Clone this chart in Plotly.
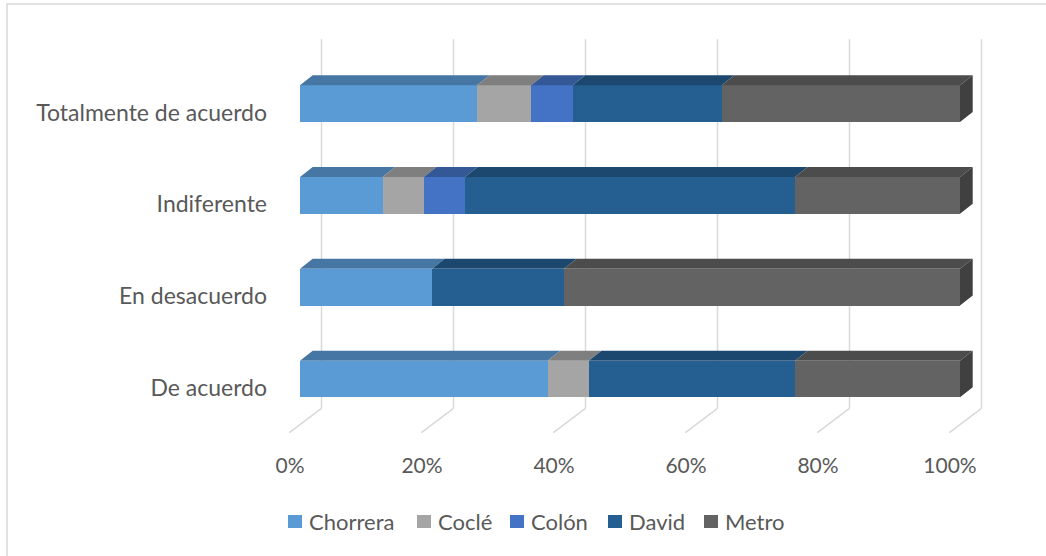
import plotly.graph_objects as go

# ---- data (percent of respondents per answer, by site) ----
categories = ["De acuerdo", "En desacuerdo", "Indiferente", "Totalmente de acuerdo"]
series_names = ["Chorrera", "Coclé", "Colón", "David", "Metro"]
chorrera = [37.5, 20.0, 12.5, 26.8]
cocle = [6.25, 0.0, 6.25, 8.2]
colon = [0.0, 0.0, 6.25, 6.3]
david = [31.25, 20.0, 50.0, 22.6]
metro = [25.0, 60.0, 25.0, 36.1]
pct_ticks = [0, 20, 40, 60, 80, 100]
pct_labels = ["0%", "20%", "40%", "60%", "80%", "100%"]

series_values = [chorrera, cocle, colon, david, metro]
front_colors = ["#5B9BD5", "#A5A5A5", "#4472C4", "#255E91", "#636363"]

# ---- styling / geometry ----
FONT = "Lato"
FS = 22
TXT = "#595959"
GRID = "#D9D9D9"
W, H = 1046, 556
ML, MR, MT, MB = 280, 46, 30, 116
PX_PER_PCT = 6.6          # horizontal scale of the front faces
ZERO_PX = 300             # page x of 0 % on the front faces
PX_PER_CAT = 91.83        # vertical spacing between categories
FIRST_CAT_PX = 379        # page y of the first category centre
BAR_W = 0.4

# 3-D projection offsets (axis units)
DX = 12.7 / PX_PER_PCT
DY = 10.0 / PX_PER_CAT
WALL_DX = 21.5 / PX_PER_PCT
FLOOR_DX = -10.7 / PX_PER_PCT
WALL_TOP = (FIRST_CAT_PX - 39.3) / PX_PER_CAT
WALL_FLOOR = (FIRST_CAT_PX - 408.3) / PX_PER_CAT
FLOOR_FRONT = (FIRST_CAT_PX - 432.7) / PX_PER_CAT

x_range = [(ML - ZERO_PX) / PX_PER_PCT, (W - MR - ZERO_PX) / PX_PER_PCT]
y_range = [(FIRST_CAT_PX - (H - MB)) / PX_PER_CAT, (FIRST_CAT_PX - MT) / PX_PER_CAT]


def shade(hex_color, f):
    h = hex_color.lstrip("#")
    r, g, b = (int(h[i:i + 2], 16) for i in (0, 2, 4))
    return "#%02X%02X%02X" % (int(r * f), int(g * f), int(b * f))


idx = list(range(len(categories)))
fig = go.Figure()

# front faces of the stacked bars
for name, vals, col in zip(series_names, series_values, front_colors):
    fig.add_trace(go.Bar(
        y=idx, x=vals, orientation="h", width=BAR_W, name=name,
        marker=dict(color=col, line=dict(width=0)), showlegend=False,
    ))

# top faces (and the right-hand side face of the last segment)
cum = [0.0] * len(categories)
for s, (name, vals, col) in enumerate(zip(series_names, series_values, front_colors)):
    xs, ys = [], []
    for i, v in enumerate(vals):
        if v <= 0:
            continue
        b, e = cum[i], cum[i] + v
        yt = i + BAR_W / 2
        xs += [b, e, e + DX, b + DX, b, None]
        ys += [yt, yt, yt + DY, yt + DY, yt, None]
    fig.add_trace(go.Scatter(
        x=xs, y=ys, mode="lines", fill="toself", fillcolor=shade(col, 0.77),
        line=dict(width=0, color=shade(col, 0.77)), hoverinfo="skip", showlegend=False,
    ))
    if s == len(series_names) - 1:
        sx, sy = [], []
        for i, v in enumerate(vals):
            e = cum[i] + v
            yb, yt = i - BAR_W / 2, i + BAR_W / 2
            sx += [e, e, e + DX, e + DX, e, None]
            sy += [yb, yt, yt + DY, yb + DY, yb, None]
        fig.add_trace(go.Scatter(
            x=sx, y=sy, mode="lines", fill="toself", fillcolor=shade(col, 0.65),
            line=dict(width=0, color=shade(col, 0.65)), hoverinfo="skip", showlegend=False,
        ))
    cum = [c + v for c, v in zip(cum, vals)]

# back-wall and floor gridlines
shapes = []
for p in pct_ticks:
    shapes.append(dict(type="line", xref="x", yref="y", layer="below",
                       x0=p + WALL_DX, x1=p + WALL_DX, y0=WALL_FLOOR, y1=WALL_TOP,
                       line=dict(color=GRID, width=1.5)))
    shapes.append(dict(type="line", xref="x", yref="y", layer="below",
                       x0=p + WALL_DX, x1=p + FLOOR_DX, y0=WALL_FLOOR, y1=FLOOR_FRONT,
                       line=dict(color=GRID, width=1.5)))

plot_w, plot_h = W - ML - MR, H - MT - MB


def px_x(px):
    return (px - ML) / plot_w


def px_y(py):
    return (H - MB - py) / plot_h


# chart-area border
shapes.append(dict(type="rect", xref="paper", yref="paper", layer="below",
                   x0=px_x(7), x1=px_x(W + 5), y0=px_y(4), y1=px_y(H + 5),
                   line=dict(color=GRID, width=1.5)))

# legend: swatch + label for each series
legend_left_px = [288, 417, 510, 608, 704]
annotations = []
for name, col, lx in zip(series_names, front_colors, legend_left_px):
    shapes.append(dict(type="rect", xref="paper", yref="paper",
                       x0=px_x(lx), x1=px_x(lx + 14), y0=px_y(528), y1=px_y(515),
                       fillcolor=col, line=dict(width=0)))
    annotations.append(dict(xref="paper", yref="paper", x=px_x(lx + 19), y=px_y(521.5),
                            xanchor="left", yanchor="middle", showarrow=False, text=name,
                            font=dict(family=FONT, size=FS, color=TXT)))

fig.update_layout(
    width=W, height=H, margin=dict(l=ML, r=MR, t=MT, b=MB),
    paper_bgcolor="white", plot_bgcolor="white",
    barmode="stack", bargap=0, showlegend=False,
    font=dict(family=FONT, size=FS, color=TXT),
    shapes=shapes, annotations=annotations,
    xaxis=dict(range=x_range, tickvals=pct_ticks, ticktext=pct_labels,
               tickfont=dict(family=FONT, size=21, color=TXT),
               showgrid=False, zeroline=False, showline=False, ticks="",
               ticklabelshift=-10, ticklabelstandoff=11, fixedrange=True),
    yaxis=dict(range=y_range, tickvals=idx, ticktext=categories,
               tickfont=dict(family=FONT, size=23, color=TXT),
               showgrid=False, zeroline=False, showline=False, ticks="",
               ticklabelshift=9, ticklabelstandoff=12, fixedrange=True),
)

fig.write_html("out.html")
